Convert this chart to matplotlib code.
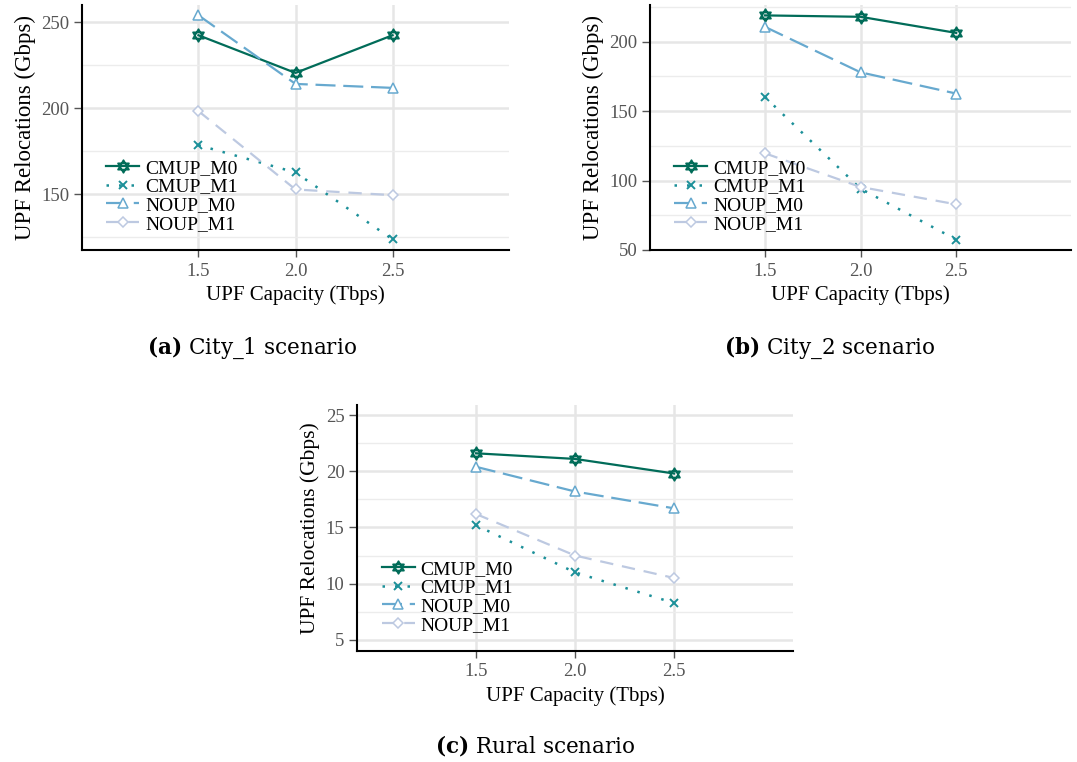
import numpy as np
import matplotlib
matplotlib.use("Agg")
import matplotlib.pyplot as plt
from matplotlib.path import Path
from matplotlib.ticker import MultipleLocator, FormatStrFormatter

plt.rcParams['font.family'] = ['Liberation Serif', 'DejaVu Serif']
# captions use a wider serif, bold tag via mathtext
plt.rcParams['mathtext.fontset'] = 'custom'
plt.rcParams['mathtext.rm'] = 'DejaVu Serif'
plt.rcParams['mathtext.bf'] = 'DejaVu Serif:bold'

# UPF capacity values (Tbps)
capacity = [1.5, 2.0, 2.5]
series_names = ['CMUP_M0', 'CMUP_M1', 'NOUP_M0', 'NOUP_M1']

# relocations per scenario (Gbps), one list per series
city1_cmup_m0 = [242.4, 220.5, 242.4]
city1_cmup_m1 = [178.5, 162.6, 123.7]
city1_noup_m0 = [254.0, 214.1, 211.8]
city1_noup_m1 = [198.3, 152.7, 149.4]

city2_cmup_m0 = [219.0, 218.0, 206.4]
city2_cmup_m1 = [160.3, 94.2, 57.5]
city2_noup_m0 = [210.8, 178.0, 162.7]
city2_noup_m1 = [119.7, 95.4, 82.9]

rural_cmup_m0 = [21.6, 21.1, 19.8]
rural_cmup_m1 = [15.2, 11.0, 8.27]
rural_noup_m0 = [20.4, 18.2, 16.7]
rural_noup_m1 = [16.2, 12.5, 10.5]

captions = ['(a)', '(b)', '(c)']
scenario_names = ['City_1 scenario', 'City_2 scenario', 'Rural scenario']

# star of david marker: two overlapping triangles
s = np.sqrt(3) / 2
hexagram = Path(
    [(0, 1), (-s, -0.5), (s, -0.5), (0, 1),
     (0, -1), (-s, 0.5), (s, 0.5), (0, -1)],
    [Path.MOVETO, Path.LINETO, Path.LINETO, Path.CLOSEPOLY,
     Path.MOVETO, Path.LINETO, Path.LINETO, Path.CLOSEPOLY])

styles = [
    dict(color='#016c59', ls='-', marker=hexagram, ms=9, mfc='none', mew=1.3, lw=1.6),
    dict(color='#1c9099', ls=(0, (1, 4)), marker='x', ms=6, mew=1.4, lw=1.8),
    dict(color='#67a9cf', ls=(0, (9, 3.5)), marker='^', ms=7, mfc='white', mew=1.1, lw=1.6),
    dict(color='#bdc9e1', ls=(0, (6, 4)), marker='D', ms=5.5, mfc='white', mew=1.1, lw=1.6),
]

fig = plt.figure(figsize=(10.77, 7.62), dpi=100)
W, H = 1077, 762
ax_a = fig.add_axes([82 / W, 1 - 250 / H, (509 - 82) / W, 245 / H])
ax_b = fig.add_axes([650 / W, 1 - 250 / H, (1071 - 650) / W, 245 / H])
ax_c = fig.add_axes([357 / W, 1 - 651 / H, (793 - 357) / W, 246 / H])

panels = [
    (ax_a, [city1_cmup_m0, city1_cmup_m1, city1_noup_m0, city1_noup_m1], (117.5, 260), 50, 16.5),
    (ax_b, [city2_cmup_m0, city2_cmup_m1, city2_noup_m0, city2_noup_m1], (50, 226.5), 50, 16.5),
    (ax_c, [rural_cmup_m0, rural_cmup_m1, rural_noup_m0, rural_noup_m1], (4, 25.9), 5, 15.5),
]

for ax, data, ylim, step, ylab_size in panels:
    for name, vals, st in zip(series_names, data, styles):
        ax.plot(capacity, vals, label=name, **st)
    ax.set_xlim(0.9, 3.1)
    ax.set_ylim(*ylim)
    ax.set_xticks(capacity)
    ax.xaxis.set_major_formatter(FormatStrFormatter('%.1f'))
    ax.yaxis.set_major_locator(MultipleLocator(step))
    ax.yaxis.set_minor_locator(MultipleLocator(step / 2))
    ax.grid(True, which='major', color='#e6e6e6', lw=1.8)
    ax.grid(True, which='minor', axis='y', color='#ececec', lw=1.0)
    ax.set_axisbelow(True)
    for side in ['top', 'right']:
        ax.spines[side].set_visible(False)
    for side in ['left', 'bottom']:
        ax.spines[side].set_linewidth(1.5)
    ax.tick_params(axis='y', which='major', length=6, width=1, color='#555555',
                   labelsize=13.5, labelcolor='#555555', pad=3)
    ax.tick_params(axis='y', which='minor', length=0)
    ax.tick_params(axis='x', length=5, width=1, color='#555555',
                   labelsize=13.5, labelcolor='#555555', pad=4)
    ax.set_xlabel('UPF Capacity (Tbps)', fontsize=15, labelpad=4)
    ax.set_ylabel('UPF Relocations (Gbps)', fontsize=ylab_size, labelpad=4)
    ax.legend(loc='lower left', bbox_to_anchor=(0.025, 0.015), frameon=False,
              fontsize=14, handlelength=1.7, handletextpad=0.3,
              labelspacing=0.05, borderpad=0.2)

caption_pos = [(252, 348), (830, 348), (535, 746)]
for tag, name, (px, py) in zip(captions, scenario_names, caption_pos):
    fig.text(px / W, 1 - py / H, r'$\mathbf{' + tag + r'}$ ' + name,
             ha='center', va='center', fontsize=15.5, family='DejaVu Serif')

fig.savefig('out.png', dpi=100)
